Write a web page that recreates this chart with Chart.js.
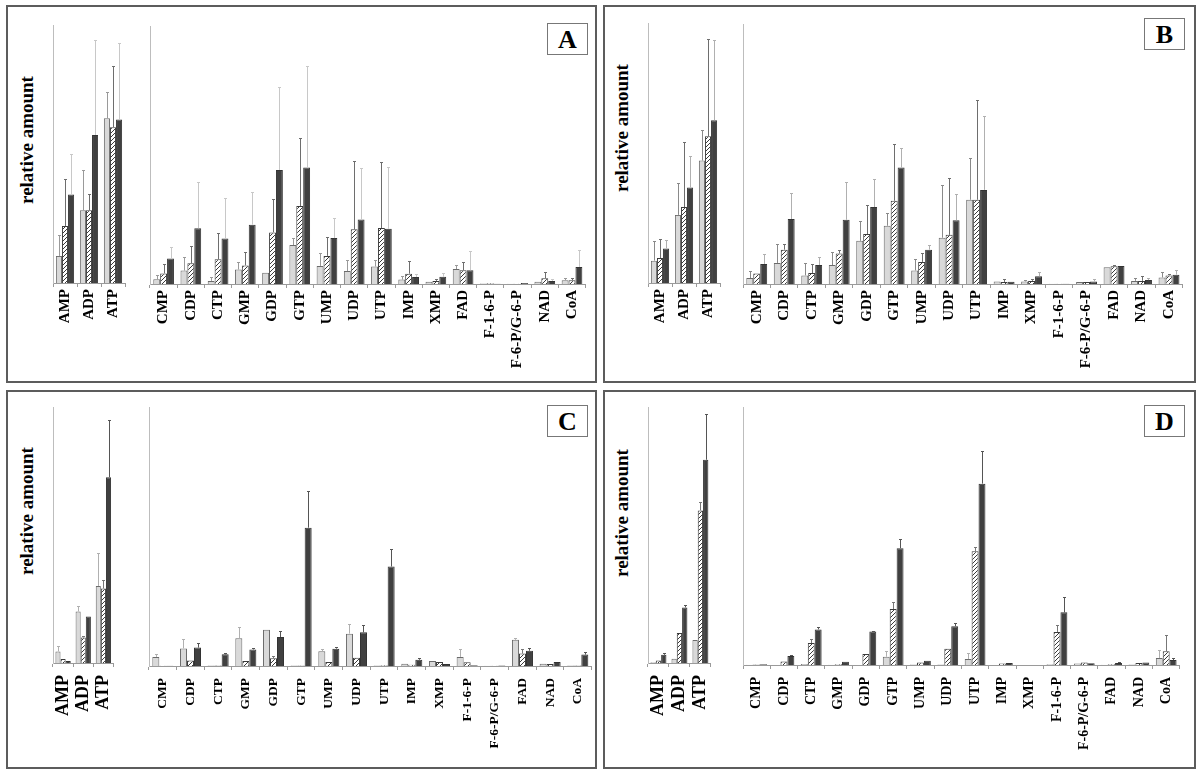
<!DOCTYPE html>
<html>
<head>
<meta charset="utf-8">
<title>Nucleotide pools</title>
<script src="https://cdn.jsdelivr.net/npm/chart.js@4"></script>
<style>
  body { margin: 0; background: #fff; }
  #page { position: relative; width: 1200px; height: 773px; background: #fff; }
  .panel { position: absolute; background: #fff; border: 2px solid #5c5c5c; box-sizing: border-box; overflow: hidden; }
  .panel canvas { position: absolute; }
  .ylab { position: absolute; font: bold 19px 'Liberation Serif', 'Times New Roman', serif; white-space: nowrap; transform: translate(-50%, -50%) rotate(-90deg); }
  .tag { position: absolute; width: 41px; height: 32px; border: 1px solid #777; box-sizing: border-box; font: bold 26px 'Liberation Serif', 'Times New Roman', serif; text-align: center; line-height: 31px; }
</style>
</head>
<body>
<div id="page"></div>
<script>
const FONT = "'Liberation Serif', 'Times New Roman', serif";

// Categories
const smallCats = ['AMP', 'ADP', 'ATP'];
const catsA = ['CMP', 'CDP', 'CTP', 'GMP', 'GDP', 'GTP', 'UMP', 'UDP', 'UTP', 'IMP', 'XMP', 'FAD', 'F-1-6-P', 'F-6-P/G-6-P', 'NAD', 'CoA'];
const catsBCD = ['CMP', 'CDP', 'CTP', 'GMP', 'GDP', 'GTP', 'UMP', 'UDP', 'UTP', 'IMP', 'XMP', 'F-1-6-P', 'F-6-P/G-6-P', 'FAD', 'NAD', 'CoA'];

// Values as % of each axis height; rows = light, hatched, dark series
const A_small = [
  [10.5, 28.2, 63.9],
  [22.1, 28.2, 60.4],
  [34.3, 57.4, 63.4]
];
const A_smallErr = [
  [18.5, 43.7, 74.0],
  [40.5, 34.4, 84.3],
  [49.9, 94.2, 93.1]
];
const A_big = [
  [1.8, 5.2, 1.2, 5.6, 4.4, 15.1, 7.0, 5.0, 6.8, 1.7, 0.9, 5.8, 0.2, 0.1, 0.9, 1.5],
  [4.1, 8.0, 9.6, 7.2, 20.0, 30.2, 10.9, 21.2, 21.7, 4.0, 1.2, 5.3, 0.3, 0.1, 2.2, 1.5],
  [9.9, 21.6, 17.6, 23.0, 44.2, 45.2, 17.8, 25.0, 21.4, 2.7, 2.8, 5.3, 0.1, 0.4, 1.2, 6.6]
];
const A_bigErr = [
  [3.4, 10.6, 2.6, 8.7, null, 17.7, 11.9, 9.2, 9.4, 3.0, null, 7.4, null, null, null, 2.2],
  [7.6, 14.9, 19.6, 12.3, 32.8, 56.5, 18.1, 47.5, 47.2, 9.0, 1.9, 8.5, null, null, 4.8, 2.2],
  [14.2, 39.4, 33.2, 35.5, 76.2, 84.6, 25.5, 45.0, 45.2, 4.0, 4.3, 12.7, null, null, 1.9, 13.0]
];

const B_small = [
  [8.6, 26.2, 47.1],
  [9.6, 29.2, 56.4],
  [13.3, 36.7, 62.6]
];
const B_smallErr = [
  [16.0, 38.3, 58.7],
  [17.1, 54.4, 94.0],
  [16.4, 48.7, 93.6]
];
const B_big = [
  [2.3, 8.1, 3.3, 7.3, 16.6, 22.4, 5.2, 17.8, 32.4, 1.0, 1.0, 0.1, 0.8, 6.4, 1.2, 2.5],
  [4.0, 13.2, 4.2, 11.7, 19.2, 32.0, 8.5, 18.9, 32.4, 0.8, 1.2, 0.1, 0.8, 6.8, 1.2, 3.3],
  [7.7, 25.0, 7.3, 24.7, 29.6, 44.8, 13.2, 24.5, 36.2, 0.9, 3.0, 0.1, 1.0, 6.9, 1.5, 3.6]
];
const B_bigErr = [
  [4.9, 15.4, 8.1, 12.5, 24.3, 27.5, 9.7, 38.2, 48.4, null, 1.5, null, null, null, 2.4, 4.5],
  [null, 15.4, 7.7, 12.9, 30.3, 53.9, 12.0, 40.7, 70.8, 1.8, 1.8, null, null, 7.5, 2.9, 4.0],
  [11.7, 35.0, 10.4, 39.1, 40.4, 52.4, 14.9, 34.7, 64.7, null, 4.5, null, 2.0, null, 2.2, 5.4]
];

const C_small = [
  [4.5, 20.1, 30.1],
  [1.6, 10.0, 29.1],
  [0.8, 18.2, 72.6]
];
const C_smallErr = [
  [6.8, 22.3, 43.0],
  [null, 10.6, 32.5],
  [null, null, 94.8]
];
const C_big = [
  [3.5, 6.8, 0.2, 10.7, 14.0, 0.2, 5.7, 12.5, 0.2, 0.9, 1.9, 3.5, 0.1, 10.1, 0.9, 0.2],
  [0.1, 2.1, 0.2, 1.9, 3.0, 0.2, 1.5, 3.2, 0.3, 0.5, 1.5, 1.4, 0.1, 4.8, 0.8, 0.2],
  [0.1, 7.1, 4.5, 6.4, 11.2, 53.4, 6.7, 13.0, 38.4, 2.4, 0.8, 0.3, 0.2, 5.9, 1.5, 4.4]
];
const C_bigErr = [
  [4.5, 10.4, null, 15.1, null, null, 6.7, 16.1, null, null, null, 6.6, null, 10.8, null, null],
  [null, null, null, null, 3.9, null, null, null, null, null, null, null, null, 6.7, null, null],
  [null, 8.8, 5.2, 6.8, 13.7, 67.4, 7.5, 15.9, 45.0, 3.0, null, null, null, 7.0, null, 5.4]
];

const D_small = [
  [0.3, 1.7, 9.0],
  [1.0, 11.7, 59.6],
  [3.2, 21.7, 79.4]
];
const D_smallErr = [
  [null, null, null],
  [null, null, 62.7],
  [3.8, 22.5, 97.4]
];
const D_big = [
  [0.1, 0, 0.4, 0.1, 0, 3.2, 0.2, 0.2, 2.3, 0, 0, 0.3, 0.6, 0.1, 0.2, 2.7],
  [0.2, 1.4, 8.5, 0.3, 4.3, 21.7, 1.0, 6.3, 44.1, 0.6, 0, 12.8, 1.0, 0.3, 0.8, 5.3],
  [0.3, 3.5, 13.8, 1.3, 13.0, 45.3, 1.6, 15.0, 70.3, 0.8, 0, 20.4, 0.7, 0.8, 1.0, 1.9]
];
const D_bigErr = [
  [null, null, null, null, null, 5.6, null, null, 4.5, null, null, null, null, null, null, 5.8],
  [null, null, 10.2, null, null, 24.4, null, null, 45.7, null, null, 15.6, null, null, null, 11.8],
  [null, 3.9, 14.6, null, 13.3, 48.7, null, 16.4, 83.1, null, null, 26.5, null, 1.3, null, 2.7]
];

// Panel layout (page px)
const panels = [
  { tag: 'A', left: 6, top: 5, w: 591, h: 378, cats: catsA,
    small: A_small, smallErr: A_smallErr, big: A_big, bigErr: A_bigErr,
    sAxis: 47, bAxis: 144, sTop: 20, sBase: 278, bTop: 21, bBase: 279, sW: 26.7, bW: 27.6,
    sFont: 15, bFont: 15, pad: 2, ylab: [21, 135], tagPos: [541, 18],
    errCol: ['#9a9a9a', '#6e6e6e', '#c8c8c8'] },
  { tag: 'B', left: 603, top: 5, w: 593, h: 378, cats: catsBCD,
    small: B_small, smallErr: B_smallErr, big: B_big, bigErr: B_bigErr,
    sAxis: 45, bAxis: 140, sTop: 18, sBase: 278, bTop: 19, bBase: 279, sW: 26.7, bW: 27.9,
    sFont: 15, bFont: 15, pad: 2, ylab: [19, 123], tagPos: [541, 13],
    errCol: ['#8a8a8a', '#6e6e6e', '#b0b0b0'] },
  { tag: 'C', left: 6, top: 390, w: 591, h: 379, cats: catsBCD,
    small: C_small, smallErr: C_smallErr, big: C_big, bigErr: C_bigErr,
    sAxis: 47, bAxis: 143, sTop: 17, sBase: 273, bTop: 17, bBase: 276, sW: 26.7, bW: 28.3,
    sFont: 18, bFont: 13.5, pad: 8, ylab: [21, 121], tagPos: [541, 15],
    errCol: ['#b0b0b0', '#777', '#555'] },
  { tag: 'D', left: 603, top: 390, w: 593, h: 379, cats: catsBCD,
    small: D_small, smallErr: D_smallErr, big: D_big, bigErr: D_bigErr,
    sAxis: 45, bAxis: 140, sTop: 17, sBase: 273, bTop: 17, bBase: 275, sW: 27.2, bW: 28,
    sFont: 18, bFont: 14, pad: 8, ylab: [19, 123], tagPos: [541, 15],
    errCol: ['#b0b0b0', '#777', '#555'] }
];

const BORDER = 2;
const AXIS_H = 100;

// Hatched fill
function makeHatch() {
  const c = document.createElement('canvas');
  c.width = 4; c.height = 4;
  const g = c.getContext('2d');
  g.fillStyle = '#fff';
  g.fillRect(0, 0, 4, 4);
  g.strokeStyle = '#3a3a3a';
  g.lineWidth = 1;
  g.beginPath();
  g.moveTo(0, 4); g.lineTo(4, 0);
  g.moveTo(-1, 1); g.lineTo(1, -1);
  g.moveTo(3, 5); g.lineTo(5, 3);
  g.stroke();
  return g.createPattern(c, 'repeat');
}
const hatch = makeHatch();

// Error bars (upper only)
const errorBars = {
  id: 'errorBars',
  afterDatasetsDraw(chart) {
    const ctx = chart.ctx;
    const y = chart.scales.y;
    chart.data.datasets.forEach((ds, i) => {
      const meta = chart.getDatasetMeta(i);
      ds.errors.forEach((e, j) => {
        if (e == null || e <= ds.data[j]) return;
        const bar = meta.data[j];
        const x = Math.round(bar.x) + 0.5;
        const top = Math.round(y.getPixelForValue(e)) + 0.5;
        ctx.save();
        ctx.strokeStyle = ds.errorColor;
        ctx.lineWidth = 1;
        ctx.beginPath();
        ctx.moveTo(x, bar.y);
        ctx.lineTo(x, top);
        ctx.moveTo(x - 1.5, top);
        ctx.lineTo(x + 1.5, top);
        ctx.stroke();
        ctx.restore();
      });
    });
  }
};

function makeDatasets(vals, errs, errCol) {
  const fills = ['#d9d9d9', hatch, '#404040'];
  const borders = ['#6b6b6b', '#3a3a3a', '#333'];
  return vals.map((v, i) => ({
    data: v,
    errors: errs[i],
    errorColor: errCol[i],
    backgroundColor: fills[i],
    borderColor: borders[i],
    borderWidth: 1,
    categoryPercentage: 0.76,
    barPercentage: 1.0
  }));
}

function makeChart(panelEl, p, cats, vals, errs, axisX, top, base, catW, fontSize) {
  const canvas = document.createElement('canvas');
  const w = Math.round(cats.length * catW + 2);
  const h = (base - top) + AXIS_H;
  canvas.width = w;
  canvas.height = h;
  canvas.style.left = (axisX - 2 - BORDER) + 'px';
  canvas.style.top = (top - BORDER) + 'px';
  canvas.style.width = w + 'px';
  canvas.style.height = h + 'px';
  panelEl.appendChild(canvas);

  new Chart(canvas, {
    type: 'bar',
    data: { labels: cats, datasets: makeDatasets(vals, errs, p.errCol) },
    options: {
      responsive: false,
      animation: false,
      events: [],
      layout: { padding: { left: 2, top: 0, right: 0, bottom: 0 } },
      plugins: { legend: { display: false }, tooltip: { enabled: false } },
      scales: {
        x: {
          grid: { offset: true, drawOnChartArea: false, drawTicks: true, tickLength: 4, color: '#9a9a9a' },
          border: { display: true, color: '#9a9a9a', width: 1 },
          ticks: {
            autoSkip: false, minRotation: 90, maxRotation: 90, padding: p.pad,
            color: '#000', font: { family: FONT, size: fontSize, weight: 'bold' }
          },
          afterFit(s) { s.height = AXIS_H; }
        },
        y: {
          min: 0, max: 100,
          ticks: { display: false },
          grid: { display: false },
          border: { display: true, color: '#bdbdbd', width: 1 },
          afterFit(s) { s.width = 0; }
        }
      }
    },
    plugins: [errorBars]
  });
}

// Build panels
const page = document.getElementById('page');
panels.forEach(p => {
  const el = document.createElement('div');
  el.className = 'panel';
  el.style.left = p.left + 'px';
  el.style.top = p.top + 'px';
  el.style.width = p.w + 'px';
  el.style.height = p.h + 'px';
  page.appendChild(el);

  const ylab = document.createElement('div');
  ylab.className = 'ylab';
  ylab.textContent = 'relative amount';
  ylab.style.left = (p.ylab[0] - BORDER) + 'px';
  ylab.style.top = (p.ylab[1] - BORDER) + 'px';
  el.appendChild(ylab);

  const tag = document.createElement('div');
  tag.className = 'tag';
  tag.textContent = p.tag;
  tag.style.left = (p.tagPos[0] - BORDER) + 'px';
  tag.style.top = (p.tagPos[1] - BORDER) + 'px';
  el.appendChild(tag);

  makeChart(el, p, smallCats, p.small, p.smallErr, p.sAxis, p.sTop, p.sBase, p.sW, p.sFont);
  makeChart(el, p, p.cats, p.big, p.bigErr, p.bAxis, p.bTop, p.bBase, p.bW, p.bFont);
});
</script>
</body>
</html>
